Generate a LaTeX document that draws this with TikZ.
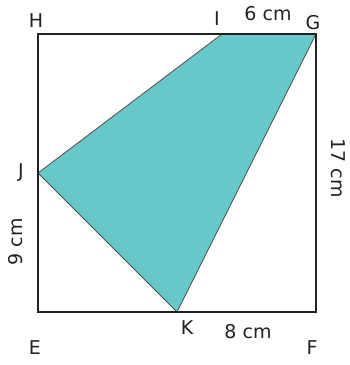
\documentclass[tikz,border=0pt]{standalone}
\usepackage{fontspec}
\setmainfont{DejaVu Sans}
\usepackage{tikz}
\definecolor{cFill}{HTML}{66C8C8}
\definecolor{cInk}{HTML}{222222}
\tikzset{
  edge/.style  = {draw=cInk, line width=1.1pt},
  shade/.style = {fill=cFill, draw=cInk!80, line width=0.8pt, line join=round},
  lbl/.style   = {font=\fontsize{19}{21}\selectfont, text=cInk, inner sep=0pt},
}
\begin{document}
\begin{tikzpicture}[x=1pt, y=1pt]
  \useasboundingbox (0,0) rectangle (349,365);
  % corners of the square
  \coordinate (E) at (38,53);
  \coordinate (F) at (316,53);
  \coordinate (G) at (316,331);
  \coordinate (H) at (38,331);
  % points on the sides
  \coordinate (I) at (222,331);
  \coordinate (J) at (38,192);
  \coordinate (K) at (177,53);
  \path[shade] (I) -- (G) -- (K) -- (J) -- cycle;
  \draw[edge] (E) -- (F) -- (G) -- (H) -- cycle;
  % letters
  \node[lbl] (lH) at (36,344) {H};
  \node[lbl] (lI) at (217,346) {I};
  \node[lbl] (lG) at (313,342) {G};
  \node[lbl] (lJ) at (21,193) {J};
  \node[lbl] (lK) at (187,37) {K};
  \node[lbl] (lE) at (35,17) {E};
  \node[lbl] (lF) at (312,17) {F};
  % lengths
  \node[lbl] (dIG) at (268,351) {6 cm};
  \node[lbl, rotate=-90] (dGF) at (338,197) {17 cm};
  \node[lbl, rotate=90] (dEJ) at (16,123) {9 cm};
  \node[lbl] (dKF) at (248,33) {8 cm};
\end{tikzpicture}
\end{document}
